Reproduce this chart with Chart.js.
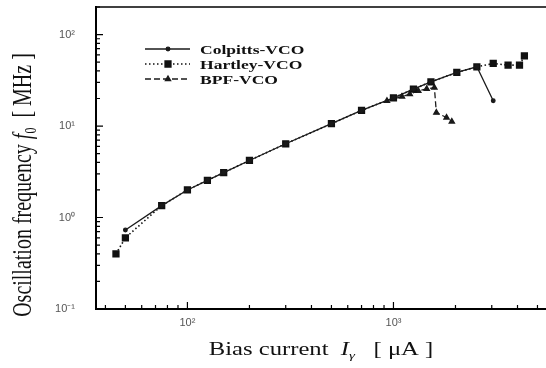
<!DOCTYPE html>
<html>
<head>
<meta charset="utf-8">
<title>Oscillation frequency vs bias current</title>
<script src="https://cdn.jsdelivr.net/npm/chart.js@4.4.1/dist/chart.umd.min.js"></script>
<style>
  html, body { margin: 0; padding: 0; background: #fff; }
</style>
</head>
<body>
<canvas id="vcoChart" width="546" height="368"></canvas>
<script>
// bias current [uA] -> oscillation frequency [MHz]
var colpittsI = [50, 75, 100, 125, 150, 200, 300, 500, 700, 1000, 1250, 1520, 2030, 2540, 3050];
var colpittsF = [0.73, 1.35, 2.0, 2.55, 3.1, 4.2, 6.4, 10.6, 14.8, 20.3, 25.3, 30.4, 38.5, 44.4, 18.9];
var hartleyI = [45, 50, 75, 100, 125, 150, 200, 300, 500, 700, 1000, 1250, 1520, 2030, 2540, 3050, 3600, 4090, 4320];
var hartleyF = [0.40, 0.60, 1.35, 2.0, 2.55, 3.1, 4.2, 6.4, 10.6, 14.8, 20.3, 25.3, 30.4, 38.5, 44.4, 48.3, 46.3, 46.3, 58.4];
var bpfI = [930, 1100, 1200, 1320, 1450, 1580, 1615, 1810, 1920];
var bpfF = [18.9, 21.0, 22.3, 24.2, 25.5, 26.3, 14.0, 12.4, 11.2];

var xTickValues = [100, 1000];
var xTickLabels = ['10²', '10³'];
var yTickValues = [0.1, 1, 10, 100];
var yTickLabels = ['10⁻¹', '10⁰', '10¹', '10²'];

function pairs(xs, ys) {
  return xs.map(function (x, i) { return { x: x, y: ys[i] }; });
}

// draws a row of text pieces; sx stretches along the text, sy across it
function drawRuns(c, runs, x, y, angle, sx, sy, align) {
  c.save();
  c.translate(x, y);
  c.rotate(angle);
  c.scale(sx, sy);
  c.fillStyle = '#111';
  c.textBaseline = 'alphabetic';
  var total = 0;
  runs.forEach(function (r) { c.font = r.font; r.w = c.measureText(r.text).width; total += r.w; });
  var cx = align === 'left' ? 0 : -total / 2;
  runs.forEach(function (r) { c.font = r.font; c.fillText(r.text, cx, r.dy || 0); cx += r.w; });
  c.restore();
}

// top frame line + inward log ticks
var frame = {
  id: 'frame',
  afterDraw: function (chart) {
    var c = chart.ctx, a = chart.chartArea, xs = chart.scales.x, ys = chart.scales.y;
    c.save();
    c.strokeStyle = '#000';
    c.lineWidth = 1.5;
    c.beginPath();
    c.moveTo(a.left, a.top);
    c.lineTo(a.right, a.top);
    c.stroke();
    c.lineWidth = 1.2;
    c.beginPath();
    for (var d = -2; d <= 4; d++) {
      for (var m = 1; m < 10; m++) {
        var v = m * Math.pow(10, d), len = m === 1 ? 7 : 4;
        if (v >= xs.min && v <= xs.max) {
          var px = xs.getPixelForValue(v);
          c.moveTo(px, a.bottom);
          c.lineTo(px, a.bottom - len);
        }
        if (v >= ys.min && v <= ys.max) {
          var py = ys.getPixelForValue(v);
          c.moveTo(a.left, py);
          c.lineTo(a.left + len, py);
        }
      }
    }
    c.stroke();
    c.restore();
  }
};

var legendBox = {
  id: 'legendBox',
  afterDraw: function (chart) {
    var c = chart.ctx;
    var rows = [49, 64, 79];
    chart.data.datasets.forEach(function (ds, i) {
      var y = rows[i];
      c.save();
      c.strokeStyle = ds.borderColor;
      c.lineWidth = ds.borderWidth;
      c.setLineDash(ds.borderDash || []);
      c.beginPath();
      c.moveTo(145, y);
      c.lineTo(190, y);
      c.stroke();
      c.setLineDash([]);
      c.fillStyle = ds.backgroundColor;
      Chart.helpers.drawPoint(c, { pointStyle: ds.pointStyle, radius: ds.pointRadius, rotation: 0, borderWidth: 1 }, 168, y);
      c.restore();
      drawRuns(c, [{ text: ds.label, font: 'bold 13px "Liberation Serif"' }], 200, y + 4.5, 0, 1.35, 1, 'left');
    });
  }
};

var axisTitles = {
  id: 'axisTitles',
  afterDraw: function (chart) {
    var c = chart.ctx;
    drawRuns(c, [
      { text: 'Bias current  ', font: '18px "Liberation Serif"' },
      { text: 'I', font: 'italic 18px "Liberation Serif"' },
      { text: 'γ', font: 'italic 11px "Liberation Serif"', dy: 4 },
      { text: '   [ μA ]', font: '18px "Liberation Serif"' }
    ], 321, 355, 0, 1.37, 1);
    drawRuns(c, [
      { text: 'Oscillation frequency ', font: '20px "Liberation Serif"' },
      { text: 'f', font: 'italic 20px "Liberation Serif"' },
      { text: '0', font: '12px "Liberation Serif"', dy: 4 },
      { text: '  [ MHz ]', font: '20px "Liberation Serif"' }
    ], 31, 185, -Math.PI / 2, 1, 1.35);
  }
};

var ctx = document.getElementById('vcoChart').getContext('2d');
var myChart = new Chart(ctx, {
  type: 'line',
  data: {
    datasets: [{
      label: 'Colpitts-VCO',
      data: pairs(colpittsI, colpittsF),
      borderColor: '#1a1a1a',
      backgroundColor: '#1a1a1a',
      borderWidth: 1.3,
      borderDash: [],
      pointStyle: 'circle',
      pointRadius: 1.8
    }, {
      label: 'Hartley-VCO',
      data: pairs(hartleyI, hartleyF),
      borderColor: '#111',
      backgroundColor: '#111',
      borderWidth: 1.6,
      borderDash: [1.5, 2.5],
      pointStyle: 'rect',
      pointRadius: 4
    }, {
      label: 'BPF-VCO',
      data: pairs(bpfI, bpfF),
      borderColor: '#1a1a1a',
      backgroundColor: '#1a1a1a',
      borderWidth: 1.3,
      borderDash: [6, 3],
      pointStyle: 'triangle',
      pointRadius: 3
    }]
  },
  options: {
    responsive: false,
    animation: false,
    layout: { autoPadding: false, padding: { top: 7, right: 0, left: 0, bottom: 0 } },
    plugins: { legend: { display: false }, tooltip: { enabled: false } },
    scales: {
      x: {
        type: 'logarithmic',
        position: 'bottom',
        min: 36,
        max: 5500,
        afterBuildTicks: function (s) { s.ticks = xTickValues.map(function (v) { return { value: v }; }); },
        afterFit: function (s) { s.height = 59; s.paddingLeft = 0; s.paddingRight = 0; },
        ticks: {
          autoSkip: false,
          maxRotation: 0,
          padding: 7,
          color: '#555',
          font: { family: 'Liberation Sans', size: 11 },
          callback: function (v) { var i = xTickValues.indexOf(v); return i < 0 ? '' : xTickLabels[i]; }
        },
        grid: { drawOnChartArea: false, drawTicks: false },
        border: { color: '#000', width: 2 }
      },
      y: {
        type: 'logarithmic',
        min: 0.1,
        max: 200,
        afterBuildTicks: function (s) { s.ticks = yTickValues.map(function (v) { return { value: v }; }); },
        afterFit: function (s) { s.width = 96; s.paddingTop = 0; s.paddingBottom = 0; },
        ticks: {
          autoSkip: false,
          padding: 21,
          color: '#555',
          font: { family: 'Liberation Sans', size: 11 },
          callback: function (v) { var i = yTickValues.indexOf(v); return i < 0 ? '' : yTickLabels[i]; }
        },
        grid: { drawOnChartArea: false, drawTicks: false },
        border: { color: '#000', width: 2 }
      }
    }
  },
  plugins: [frame, legendBox, axisTitles]
});
</script>
</body>
</html>
